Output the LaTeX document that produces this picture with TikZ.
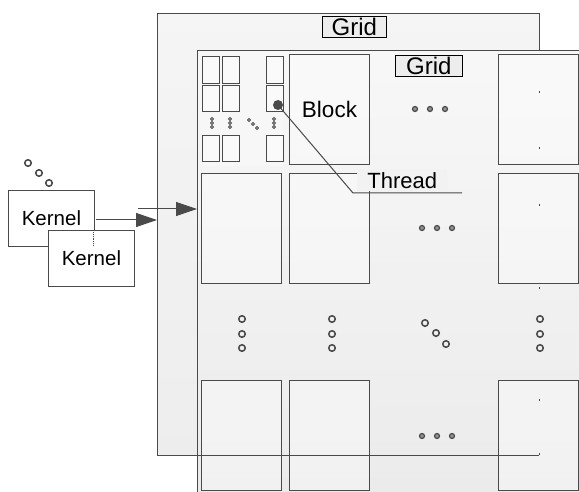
\documentclass[tikz,border=0pt]{standalone}
\usepackage{fontspec}
\setmainfont{Liberation Sans}
\usetikzlibrary{arrows.meta}
\definecolor{ln}{HTML}{4A4A4A}
\definecolor{lbl}{HTML}{EDEDED}
\tikzset{
  blk/.style={draw=ln, line width=1pt, fill=white, fill opacity=0.35, text opacity=1, inner sep=0pt, anchor=north west, minimum width=80pt, minimum height=110pt},
  sblk/.style={draw=ln, line width=0.9pt, fill=white!98!black, inner sep=0pt, anchor=north west, minimum width=17pt, minimum height=27pt},
  kern/.style={draw=ln, line width=0.9pt, fill=white, inner sep=0pt, anchor=north west, minimum width=86pt, minimum height=56pt, font=\fontsize{20.5}{20.5}\selectfont},
  gridlbl/.style={draw=black, line width=0.7pt, fill=lbl, inner sep=0pt, anchor=north west, minimum height=21pt, font=\fontsize{24}{24}\selectfont},
  odot/.style={circle, draw=ln, line width=1.5pt, minimum size=6.5pt, inner sep=0pt},
  sdot/.style={circle, draw=ln, fill=ln!60, line width=1.2pt, minimum size=5pt, inner sep=0pt},
  tdot/.style={circle, draw=ln, line width=0.9pt, minimum size=3.2pt, inner sep=0pt},
  conn/.style={draw=ln, line width=1pt},
  bigarrow/.style={conn, -{Triangle[length=21pt,width=14pt]}}
}
\begin{document}
\begin{tikzpicture}[x=1pt,y=-1pt]
\useasboundingbox (0,0) rectangle (579,492);
\fill[white] (0,0) rectangle (579,492);
% back grid
\node[draw=ln, line width=1pt, top color=white!96!black, bottom color=white!93!black, inner sep=0pt, anchor=north west, minimum width=382pt, minimum height=442pt] (g1) at (157,13) {};
\node[gridlbl, minimum width=64pt] (g1l) at (322,16) {Grid};
% front grid
\node[draw=ln, line width=1pt, top color=white!97!black, bottom color=white!92!black, inner sep=0pt, anchor=north west, minimum width=400pt, minimum height=460pt] (g2) at (197,50) {};
\node[gridlbl, minimum width=67pt] (g2l) at (395,55) {Grid};
% blocks
\node[blk] (b11) at (201,54) {};
\node[blk, font=\fontsize{22.5}{22.5}\selectfont] (b12) at (289,54) {Block};
\node[blk] (b14) at (498,54) {};
\node[blk] (b21) at (201,173) {};
\node[blk] (b22) at (289,173) {};
\node[blk] (b24) at (498,173) {};
\node[blk] (b41) at (201,380) {};
\node[blk] (b42) at (289,380) {};
\node[blk] (b44) at (498,380) {};
\fill[white!97!black] (b11.north west) rectangle (b11.south east);
\draw[white!97!black] (b11.north west) rectangle (b11.south east);
% small thread boxes
\foreach \c/\x in {1/202,2/222,3/266}{
  \node[sblk] (t1\c) at (\x,56) {};
  \node[sblk, minimum height=26pt] (t2\c) at (\x,85) {};
  \node[sblk, minimum height=26pt] (t3\c) at (\x,135) {};
}
\foreach \x in {212,230,274}{
  \node[tdot] (vd\x a) at (\x,119) {};
  \node[tdot] (vd\x b) at (\x,123) {};
  \node[tdot] (vd\x c) at (\x,127) {};
}
\node[tdot] (dd1) at (249,120) {};
\node[tdot] (dd2) at (253,124) {};
\node[tdot] (dd3) at (257,128) {};
% back grid bottom and right edge traces
\coordinate (bl) at (157,455);
\coordinate (br) at (539,455);
\draw[conn] (bl) -- (br);
\foreach \y in {91,147,204,287,399,453}{
  \draw[ln, line width=1pt] (539,\y) -- (539,\y+2);
}
% ellipsis dots
\foreach \r/\y in {1/109,2/228,4/436}{
  \pgfmathsetmacro{\xo}{\r==1 ? 415 : 422}
  \node[sdot] (h\r a) at (\xo,\y) {};
  \node[sdot] (h\r b) at (\xo+15,\y) {};
  \node[sdot] (h\r c) at (\xo+30,\y) {};
}
\foreach \c/\x in {1/242,2/332,4/540}{
  \node[odot] (v\c a) at (\x,319) {};
  \node[odot] (v\c b) at (\x,334) {};
  \node[odot] (v\c c) at (\x,348) {};
}
\node[odot] (d1) at (425,323) {};
\node[odot] (d2) at (436,333) {};
\node[odot] (d3) at (446,344) {};
% thread callout
\node[fill=white!95!black, inner sep=0pt, anchor=north west, minimum width=90pt, minimum height=22pt, font=\fontsize{22}{22}\selectfont] (thr) at (357,169) {Thread};
\node[circle, fill=ln, inner sep=0pt, minimum size=10pt] (tp) at (278,105) {};
\coordinate (elb) at (353,193);
\coordinate (tend) at (462,193);
\draw[ln, line width=1pt] (tp.center) -- (elb) -- (tend);
% kernels
\node[kern] (k1) at (8,190) {Kernel};
\node[kern] (k2) at (48,230) {Kernel};
\draw[ln, line width=0.9pt, densely dotted] (93,230) -- (93,246);
\node[odot] (kd1) at (28,163) {};
\node[odot] (kd2) at (39,173) {};
\node[odot] (kd3) at (49,183) {};
% arrows
\coordinate (a1s) at (96,220);
\coordinate (a2s) at (138,209);
\draw[bigarrow] (a1s) -- (a1s -| g1.west);
\draw[bigarrow] (a2s) -- (a2s -| g2.west);
\end{tikzpicture}
\end{document}
